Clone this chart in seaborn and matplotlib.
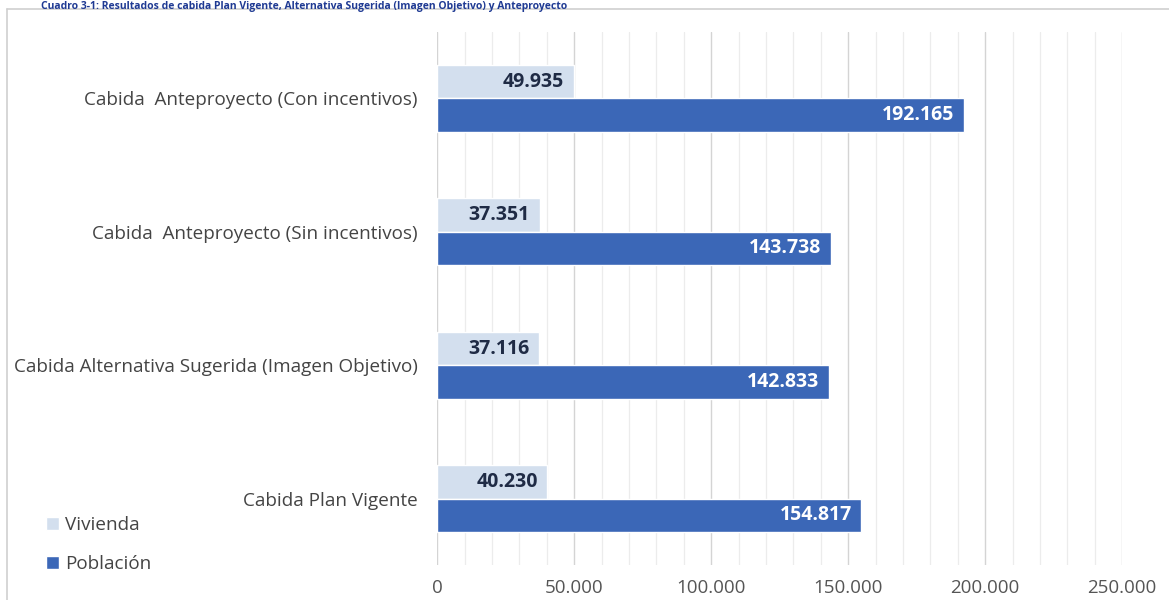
import matplotlib
matplotlib.use("Agg")
import matplotlib.pyplot as plt
import seaborn as sns
import pandas as pd
from matplotlib.lines import Line2D
from matplotlib.ticker import MultipleLocator, FuncFormatter

categorias = [
    "Cabida  Anteproyecto (Con incentivos)",
    "Cabida  Anteproyecto (Sin incentivos)",
    "Cabida Alternativa Sugerida (Imagen Objetivo)",
    "Cabida Plan Vigente",
]
vivienda = [49935, 37351, 37116, 40230]
poblacion = [192165, 143738, 142833, 154817]
series = ["Vivienda", "Población"]
colores = ["#d3dfee", "#3b67b7"]

df = pd.DataFrame({
    "Cabida": categorias * 2,
    "Serie": ["Vivienda"] * len(categorias) + ["Población"] * len(categorias),
    "Valor": vivienda + poblacion,
})

sns.set_theme(style="white")
plt.rcParams["font.family"] = ["Open Sans", "DejaVu Sans"]

fig = plt.figure(figsize=(11.69, 6.0), dpi=100)
ax = fig.add_axes([0.374, 0.058, 0.586, 0.889])

sns.barplot(data=df, y="Cabida", x="Valor", hue="Serie", order=categorias,
            hue_order=series, palette=colores, width=0.5, orient="h",
            saturation=1, ax=ax, legend=True)

ax.set_xlim(0, 250000)
ax.set_ylim(len(categorias) - 0.5, -0.5)
ax.xaxis.set_major_locator(MultipleLocator(50000))
ax.xaxis.set_minor_locator(MultipleLocator(10000))
ax.xaxis.set_major_formatter(FuncFormatter(lambda v, p: f"{int(v):,}".replace(",", ".")))
ax.grid(True, axis="x", which="major", color="#d4d4d4", linewidth=1.0)
ax.grid(True, axis="x", which="minor", color="#ececec", linewidth=0.9)
ax.set_axisbelow(True)
for s in ax.spines.values():
    s.set_visible(False)
ax.tick_params(axis="x", which="both", length=0, pad=10, labelsize=13.5, labelcolor="#555555")
ax.tick_params(axis="y", length=0, pad=14, labelsize=13.6, labelcolor="#444444")
ax.set_xlabel("")
ax.set_ylabel("")

# value labels inside the end of each bar
fmt = lambda v: f"{v:,}".replace(",", ".")
for container, color in zip(ax.containers, ["#1f2b45", "white"]):
    for rect in container:
        w = rect.get_width()
        yc = rect.get_y() + rect.get_height() / 2
        ax.annotate(fmt(int(round(w))), (w, yc), xytext=(-7, 0),
                    textcoords="offset points", ha="right", va="center",
                    fontsize=14, fontweight="bold", color=color)

handles, labels = ax.get_legend_handles_labels()
ax.get_legend().remove()
fig.legend(handles, labels, loc="lower left", bbox_to_anchor=(0.025, 0.017),
           frameon=False, fontsize=13.6, labelcolor="#444444",
           handlelength=0.7, handleheight=0.7, handletextpad=0.3,
           labelspacing=1.1)

# thin outer chart border (top and left)
fig.add_artist(Line2D([0.006, 1.0], [0.985, 0.985], color="#cfcfcf", linewidth=1.2))
fig.add_artist(Line2D([0.006, 0.006], [0.0, 0.985], color="#cfcfcf", linewidth=1.2))

fig.text(0.035, 0.999,
         "Cuadro 3-1: Resultados de cabida Plan Vigente, Alternativa Sugerida (Imagen Objetivo) y Anteproyecto",
         ha="left", va="top", fontsize=7.5, fontweight="bold", color="#1f3a93")

fig.savefig("out.png", dpi=100)
